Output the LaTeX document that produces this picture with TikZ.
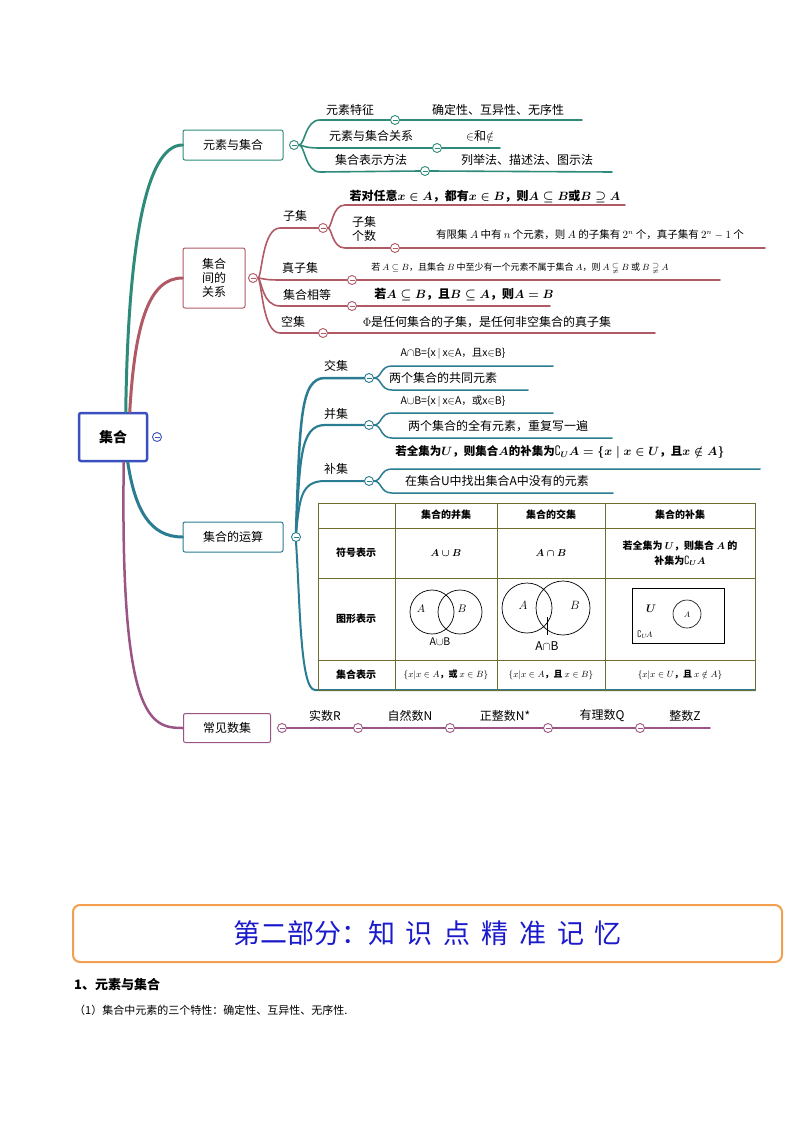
\documentclass[tikz,border=0pt]{standalone}
\usepackage{amsmath,amssymb}
\usepackage{fontspec}
\setmainfont{Noto Sans CJK SC}
\usetikzlibrary{calc}
\definecolor{cA}{HTML}{2E8B7A}
\definecolor{cB}{HTML}{B05A66}
\definecolor{cC}{HTML}{2A7C92}
\definecolor{cD}{HTML}{9A5584}
\definecolor{cR}{HTML}{3A50C0}
\definecolor{tb}{HTML}{6E6E30}
\definecolor{orng}{HTML}{F0A050}
\definecolor{blu}{HTML}{1A1ACC}
\tikzset{
 cc/.style={circle,draw=#1,fill=white,minimum size=9pt,inner sep=0pt,line width=0.9pt,
   path picture={\draw[#1,line width=0.9pt] ([xshift=-2.5pt]path picture bounding box.center)--++(5pt,0);}},
 box/.style={draw=#1,rounded corners=2pt,line width=1pt,fill=white,font=\fontsize{12}{14}\selectfont,align=center},
 tx/.style={font=\fontsize{12}{14}\selectfont,inner sep=1pt},
 sm/.style={font=\fontsize{10.5}{12}\selectfont,inner sep=1pt},
 br/.style={line width=#1,line cap=round},
}
\begin{document}
\begin{tikzpicture}[x=1pt,y=-1pt]
\useasboundingbox (0,0) rectangle (800,1132);
% root
\node[draw=cR,line width=2.5pt,rounded corners=2pt,minimum width=68pt,minimum height=48pt,font=\fontsize{14}{16}\selectfont\bfseries] (root) at (113,437) {集合};
\node[cc=cR] (rc) at (157,437) {};
% level1 boxes
\node[box=cA,minimum width=100pt,minimum height=30pt] (n1) at (233,145) {元素与集合};
\node[box=cB,minimum width=62pt,minimum height=60pt,inner sep=1pt] (n2) at (214,278) {集合\\间的\\关系};
\node[box=cC,minimum width=100pt,minimum height=30pt] (n3) at (233,537) {集合的运算};
\node[box=cD,minimum width=87pt,minimum height=29pt] (n4) at (227,728) {常见数集};
\draw[cA,br=3pt] (root.north west)++(48,0) .. controls (128,250) and (145,145) .. (n1.west);
\draw[cB,br=3pt] (root.north west)++(52,0) .. controls (135,320) and (150,278) .. (n2.west);
\draw[cC,br=3pt] (root.south west)++(50,0) .. controls (135,510) and (150,537) .. (n3.west);
\draw[cD,br=2.5pt] (root.south west)++(46,0) .. controls (120,720) and (150,728) .. (n4.west);
% ---- branch 1
\node[cc=cA] (c1) at (294,145) {};
\node[cc=cA] (c11) at (395,120) {};
\node[cc=cA] (c12) at (437,148) {};
\node[cc=cA] (c13) at (425,171) {};
\coordinate (e11) at (582,120); \coordinate (e12) at (500,148); \coordinate (e13) at (612,172);
\draw[cA,br=1.6pt] (c1.east) .. controls (305,145) and (305,120) .. (320,120) -- (c11.west) (c11.east) -- (e11);
\draw[cA,br=1.6pt] (c1.east) .. controls (305,146) and (305,148) .. (320,148) -- (c12.west) (c12.east) -- (e12);
\draw[cA,br=1.6pt] (c1.east) .. controls (305,145) and (305,172) .. (320,172) -- (c13.west) (c13.east) -- (e13);
\node[tx] at (350,110) {元素特征};
\node[tx] at (498,110) {确定性、互异性、无序性};
\node[tx] at (371,136) {元素与集合关系};
\node[tx] at (480,136) {$\in$和$\notin$};
\node[tx] at (371,160) {集合表示方法};
\node[tx] at (527,160) {列举法、描述法、图示法};
% ---- branch 2
\node[cc=cB] (c2) at (253,278) {};
\node[cc=cB] (c21) at (323,228) {};
\node[cc=cB] (c211) at (395,248) {};
\node[cc=cB] (c22) at (352,280) {};
\node[cc=cB] (c23) at (352,306) {};
\node[cc=cB] (c24) at (323,333) {};
\coordinate (e210) at (625,205); \coordinate (e211) at (765,248);
\coordinate (e22) at (720,280); \coordinate (e23) at (550,306); \coordinate (e24) at (655,333);
\draw[cB,br=1.6pt] (c2.east) .. controls (262,278) and (262,228) .. (280,228) -- (c21.west);
\draw[cB,br=1.6pt] (c21.east) .. controls (332,228) and (332,205) .. (345,205) -- (e210);
\draw[cB,br=1.6pt] (c21.east) .. controls (332,228) and (332,248) .. (345,248) -- (c211.west) (c211.east) -- (e211);
\draw[cB,br=1.6pt] (c2.east) .. controls (262,278) and (262,280) .. (280,280) -- (c22.west) (c22.east) -- (e22);
\draw[cB,br=1.6pt] (c2.east) .. controls (262,280) and (262,306) .. (280,306) -- (c23.west) (c23.east) -- (e23);
\draw[cB,br=1.6pt] (c2.east) .. controls (262,280) and (262,333) .. (280,333) -- (c24.west) (c24.east) -- (e24);
\node[tx] at (295,216) {子集};
\node[tx,font=\fontsize{12}{14}\selectfont\bfseries] at (485,196) {若对任意$\boldsymbol{x\in A}$，都有$\boldsymbol{x\in B}$，则$\boldsymbol{A\subseteq B}$或$\boldsymbol{B\supseteq A}$};
\node[tx,align=center] at (364,229) {子集\\个数};
\node[sm] at (590,235) {有限集 $A$ 中有 $n$ 个元素，则 $A$ 的子集有 $2^n$ 个，真子集有 $2^n-1$ 个};
\node[tx] at (300,268) {真子集};
\node[font=\fontsize{9}{11}\selectfont,inner sep=1pt] at (520,268) {若 $A\subseteq B$，且集合 $B$ 中至少有一个元素不属于集合 $A$，则 $A\subsetneqq B$ 或 $B\supsetneqq A$};
\node[tx] at (307,295) {集合相等};
\node[tx,font=\fontsize{12}{14}\selectfont\bfseries] at (464,295) {若$\boldsymbol{A\subseteq B}$，且$\boldsymbol{B\subseteq A}$，则$\boldsymbol{A=B}$};
\node[tx] at (293,322) {空集};
\node[tx] at (487,322) {$\Phi$是任何集合的子集，是任何非空集合的真子集};
% ---- branch 3
\node[cc=cC] (c3) at (296,537) {};
\node[cc=cC] (c31) at (369,378) {};
\node[cc=cC] (c32) at (369,425) {};
\node[cc=cC] (c33) at (369,481) {};
\draw[cC,br=2.5pt] (c3.north) .. controls (300,420) and (300,378) .. (325,378) -- (c31.west);
\draw[cC,br=2.2pt] (c3.north) .. controls (300,460) and (300,425) .. (325,425) -- (c32.west);
\draw[cC,br=2pt] (c3.north) .. controls (300,500) and (300,481) .. (325,481) -- (c33.west);
\coordinate (e3t) at (755,690);
\draw[cC,br=2pt] (c3.south) .. controls (300,600) and (300,690) .. (315,690) -- (e3t);
\coordinate (e311) at (553,366); \coordinate (e312) at (528,390);
\coordinate (e321) at (553,413); \coordinate (e322) at (612,438);
\coordinate (e331) at (760,469); \coordinate (e332) at (613,493);
\foreach \c/\a/\b in {c31/e311/e312,c32/e321/e322,c33/e331/e332}{
 \draw[cC,br=1.5pt] (\c.east) .. controls ($(\c.east)+(8,0)$) and ($(\a-|\c.east)+(6,0)$) .. ($(\a-|\c.east)+(18,0)$) -- (\a);
 \draw[cC,br=1.5pt] (\c.east) .. controls ($(\c.east)+(8,0)$) and ($(\b-|\c.east)+(6,0)$) .. ($(\b-|\c.east)+(18,0)$) -- (\b);
}
\node[tx] at (336,366) {交集};
\node[sm] at (453,354) {A$\cap$B=\{x$\,|\,$x$\in$A，且x$\in$B\}};
\node[tx] at (443,378) {两个集合的共同元素};
\node[tx] at (336,414) {并集};
\node[sm] at (453,401) {A$\cup$B=\{x$\,|\,$x$\in$A，或x$\in$B\}};
\node[tx] at (498,426) {两个集合的全有元素，重复写一遍};
\node[tx] at (336,469) {补集};
\node[tx,font=\fontsize{11.5}{14}\selectfont\bfseries] at (560,452) {若全集为$\boldsymbol U$，则集合$\boldsymbol A$的补集为$\boldsymbol{\complement_U A=\{x\mid x\in U}$，且$\boldsymbol{x\notin A\}}$};
\node[tx] at (497,481) {在集合U中找出集合A中没有的元素};
% table
\draw[tb,line width=1pt] (318,503) rectangle (755,690);
\foreach \x in {395,497,605} \draw[tb,line width=0.8pt] (\x,503)--(\x,690);
\foreach \y in {528,578,660} \draw[tb,line width=0.8pt] (318,\y)--(755,\y);
\tikzset{th/.style={font=\fontsize{10}{12}\selectfont\bfseries,inner sep=1pt,align=center}}
\node[th] at (446,515) {集合的并集};
\node[th] at (551,515) {集合的交集};
\node[th] at (680,515) {集合的补集};
\node[th] at (356,553) {符号表示};
\node[th] at (356,619) {图形表示};
\node[th] at (356,675) {集合表示};
\node[th] at (446,553) {$\boldsymbol{A\cup B}$};
\node[th] at (551,553) {$\boldsymbol{A\cap B}$};
\node[th,font=\fontsize{10}{15}\selectfont\bfseries] at (680,553) {若全集为 $\boldsymbol U$，则集合 $\boldsymbol A$ 的\\补集为$\boldsymbol{\complement_U A}$};
\node[th,font=\fontsize{9}{11}\selectfont\bfseries] at (446,675) {$\{x|x\in A$，或 $x\in B\}$};
\node[th,font=\fontsize{9}{11}\selectfont\bfseries] at (551,675) {$\{x|x\in A$，且 $x\in B\}$};
\node[th,font=\fontsize{9}{11}\selectfont\bfseries] at (680,675) {$\{x|x\in U$，且 $x\notin A\}$};
\draw[line width=0.7pt] (432,612) circle (22) (460,612) circle (22);
\node[sm] at (421,609) {$A$}; \node[sm] at (462,609) {$B$};
\node[sm] at (440,642) {A$\cup$B};
\draw[line width=0.7pt] (527,608) circle (25) (563,608) circle (27);
\draw[line width=0.6pt] (547,617)--(547,635);
\node[tx] at (523,605) {$A$}; \node[tx] at (575,605) {$B$};
\node[tx] at (547,646) {A$\cap$B};
\draw[line width=0.7pt] (632,588) rectangle (724,643);
\draw[line width=0.6pt] (687,614) circle (14);
\node[sm] at (651,609) {$\boldsymbol U$}; \node[font=\fontsize{8}{9}\selectfont] at (687,615) {$A$};
\node[font=\fontsize{8}{9}\selectfont] at (645,635) {$\complement_U\!A$};
% ---- branch 4
\node[cc=cD] (c41) at (282,728) {};
\node[cc=cD] (c42) at (358,728) {};
\node[cc=cD] (c43) at (450,728) {};
\node[cc=cD] (c44) at (548,728) {};
\node[cc=cD] (c45) at (640,728) {};
\coordinate (e4) at (710,728);
\draw[cD,br=1.6pt] (c41)--(c42) (c42)--(c43) (c43)--(c44) (c44)--(c45) (c45)--(e4);
\node[tx] at (325,716) {实数R};
\node[tx] at (410,716) {自然数N};
\node[tx] at (505,716) {正整数N*};
\node[tx] at (602,716) {有理数Q};
\node[tx] at (685,716) {整数Z};
% bottom
\node[draw=orng,line width=2pt,rounded corners=7pt,minimum width=709pt,minimum height=57pt,text=blu,font=\fontsize{27}{30}\selectfont] (hdr) at (427.5,933.5) {第二部分：知\hspace{0.4em}识\hspace{0.4em}点\hspace{0.4em}精\hspace{0.4em}准\hspace{0.4em}记\hspace{0.4em}忆};
\node[anchor=west,font=\fontsize{13}{15}\selectfont\bfseries,inner sep=0] (h1) at (74,985) {1、元素与集合};
\node[anchor=west,font=\fontsize{11}{13}\selectfont,inner sep=0] (p1) at (74,1010) {（1）集合中元素的三个特性：确定性、互异性、无序性.};
\end{tikzpicture}
\end{document}
